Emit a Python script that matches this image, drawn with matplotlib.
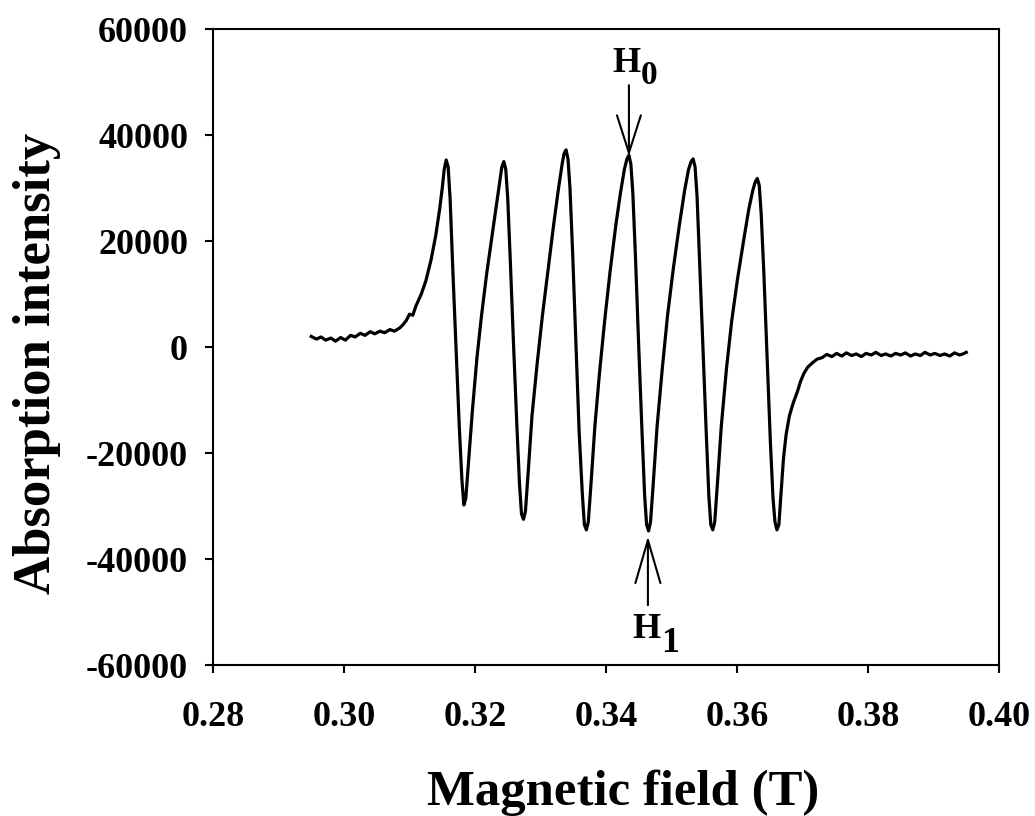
import matplotlib
matplotlib.use("Agg")
import matplotlib.pyplot as plt
from matplotlib.ticker import FixedLocator, FuncFormatter

# ---- data ----
field_T = [
    0.2950, 0.2958, 0.2965, 0.2972, 0.2980, 0.2987, 0.2995, 0.3002, 0.3010, 0.3017,
    0.3025, 0.3032, 0.3040, 0.3047, 0.3055, 0.3062, 0.3070, 0.3077, 0.3085, 0.3090,
    0.3095, 0.3100, 0.3105, 0.3110, 0.3118, 0.3125, 0.3133, 0.3140, 0.3146, 0.3150,
    0.3153, 0.3156, 0.3159, 0.3162, 0.3166, 0.3171, 0.3176, 0.3180, 0.3183, 0.3186,
    0.3190, 0.3196, 0.3203, 0.3210, 0.3218, 0.3226, 0.3233, 0.3238, 0.3241, 0.3244,
    0.3247, 0.3250, 0.3254, 0.3259, 0.3264, 0.3268, 0.3271, 0.3274, 0.3277, 0.3281,
    0.3287, 0.3295, 0.3303, 0.3312, 0.3320, 0.3327, 0.3333, 0.3336, 0.3339, 0.3342,
    0.3345, 0.3349, 0.3354, 0.3359, 0.3364, 0.3367, 0.3370, 0.3373, 0.3377, 0.3383,
    0.3390, 0.3398, 0.3406, 0.3415, 0.3422, 0.3428, 0.3432, 0.3435, 0.3438, 0.3441,
    0.3445, 0.3450, 0.3455, 0.3459, 0.3462, 0.3465, 0.3468, 0.3472, 0.3478, 0.3486,
    0.3494, 0.3503, 0.3512, 0.3520, 0.3526, 0.3530, 0.3533, 0.3536, 0.3539, 0.3543,
    0.3548, 0.3553, 0.3557, 0.3560, 0.3563, 0.3566, 0.3570, 0.3576, 0.3584, 0.3592,
    0.3601, 0.3610, 0.3618, 0.3624, 0.3628, 0.3631, 0.3634, 0.3637, 0.3641, 0.3646,
    0.3651, 0.3655, 0.3658, 0.3661, 0.3664, 0.3667, 0.3671, 0.3675, 0.3680, 0.3686,
    0.3692, 0.3697, 0.3702, 0.3708, 0.3715, 0.3722, 0.3730, 0.3737, 0.3745, 0.3752,
    0.3760, 0.3767, 0.3775, 0.3782, 0.3790, 0.3797, 0.3805, 0.3812, 0.3820, 0.3827,
    0.3835, 0.3842, 0.3850, 0.3857, 0.3865, 0.3872, 0.3880, 0.3887, 0.3895, 0.3902,
    0.3910, 0.3917, 0.3925, 0.3932, 0.3940, 0.3945, 0.3950,
]
intensity = [
    2000, 1500, 1900, 1300, 1700, 1100, 1800, 1300, 2200, 1900,
    2600, 2200, 2900, 2500, 3000, 2700, 3300, 3000, 3600, 4200,
    5000, 6200, 6000, 7800, 10000, 12500, 16500, 21000, 26000, 30000,
    33500, 35300, 34000, 28000, 15000, 0, -15000, -25000, -29800, -28500,
    -22000, -12000, -2000, 6000, 14000, 21000, 27000, 31500, 34000, 35000,
    33500, 28000, 16000, 0, -15000, -26000, -31500, -32500, -31000, -24000,
    -13000, -3000, 6000, 15000, 23000, 29500, 34500, 36500, 37200, 35500,
    30000, 18000, 1000, -16000, -28000, -33500, -34500, -33000, -26000, -15000,
    -5000, 5000, 14000, 23000, 29000, 33500, 35500, 36200, 34500, 29000,
    17000, 0, -16000, -28000, -33500, -34700, -33000, -26000, -15000, -4000,
    6000, 15000, 23000, 29500, 33500, 35000, 35500, 34000, 28500, 16000,
    0, -16000, -28000, -33500, -34500, -33000, -26000, -15000, -4000, 5000,
    13000, 20000, 26000, 29500, 31200, 31800, 30500, 25000, 14000, -2000,
    -18000, -28500, -33000, -34500, -33500, -28000, -21000, -16500, -13000, -10500,
    -8500, -6500, -5000, -3800, -3000, -2300, -2000, -1400, -1800, -1200,
    -1700, -1100, -1600, -1300, -1800, -1200, -1500, -1000, -1600, -1300,
    -1700, -1200, -1500, -1100, -1700, -1300, -1600, -1000, -1500, -1200,
    -1600, -1300, -1700, -1100, -1500, -1300, -1000,
]

x_ticks = [0.28, 0.30, 0.32, 0.34, 0.36, 0.38, 0.40]
y_ticks = [-60000, -40000, -20000, 0, 20000, 40000, 60000]
x_label = "Magnetic field (T)"
y_label = "Absorption intensity"

# arrow markers (H0 at a peak, H1 at a trough)
h0_tip = (0.3435, 36000)
h0_tail = (0.3435, 49400)
h1_tip = (0.3464, -35700)
h1_tail = (0.3464, -48700)

# ---- figure ----
plt.rcParams['font.family'] = ['Liberation Serif', 'DejaVu Serif']
plt.rcParams['font.weight'] = 'bold'
plt.rcParams['axes.unicode_minus'] = False

fig = plt.figure(figsize=(10.35, 8.16), dpi=100)
ax = fig.add_axes([0.2058, 0.1850, 0.7594, 0.7794])

ax.plot(field_T, intensity, color='black', lw=2.3, solid_joinstyle='round')

ax.set_xlim(0.28, 0.40)
ax.set_ylim(-60000, 60000)
ax.xaxis.set_major_locator(FixedLocator(x_ticks))
ax.yaxis.set_major_locator(FixedLocator(y_ticks))
ax.xaxis.set_major_formatter(FuncFormatter(lambda v, p: f"{v:.2f}"))
ax.yaxis.set_major_formatter(FuncFormatter(lambda v, p: f"{int(round(v))}"))

for s in ax.spines.values():
    s.set_linewidth(1.5)
ax.tick_params(axis='both', direction='out', length=6, width=1.5,
               labelsize=26, top=False, right=False)
ax.tick_params(axis='x', pad=20)
ax.tick_params(axis='y', pad=12)
for lab in ax.get_xticklabels() + ax.get_yticklabels():
    lab.set_fontweight('bold')

ax.set_xlabel(x_label, fontsize=36.5, fontweight='bold', va='baseline')
ax.set_ylabel(y_label, fontsize=38, fontweight='bold', va='baseline')
ax.xaxis.set_label_coords(0.522, -0.220)
ax.yaxis.set_label_coords(-0.208, 0.475)

arrow_kw = dict(color='black', lw=1.5, shrinkA=0, shrinkB=0, mutation_scale=10)
ax.annotate('', xy=h0_tip, xytext=h0_tail,
            arrowprops=dict(arrowstyle='->, head_length=2.7, head_width=0.86', **arrow_kw))
ax.annotate('', xy=h1_tip, xytext=h1_tail,
            arrowprops=dict(arrowstyle='->, head_length=3.1, head_width=0.9', **arrow_kw))

ax.text(0.3452, 51900, 'H', fontsize=26, fontweight='bold', ha='right', va='baseline')
ax.text(0.3453, 49600, '0', fontsize=24, fontweight='bold', ha='left', va='baseline')
ax.text(0.3483, -54900, 'H', fontsize=26, fontweight='bold', ha='right', va='baseline')
ax.text(0.3484, -57500, '1', fontsize=26, fontweight='bold', ha='left', va='baseline')

fig.savefig('out.png', dpi=100, facecolor='white')
